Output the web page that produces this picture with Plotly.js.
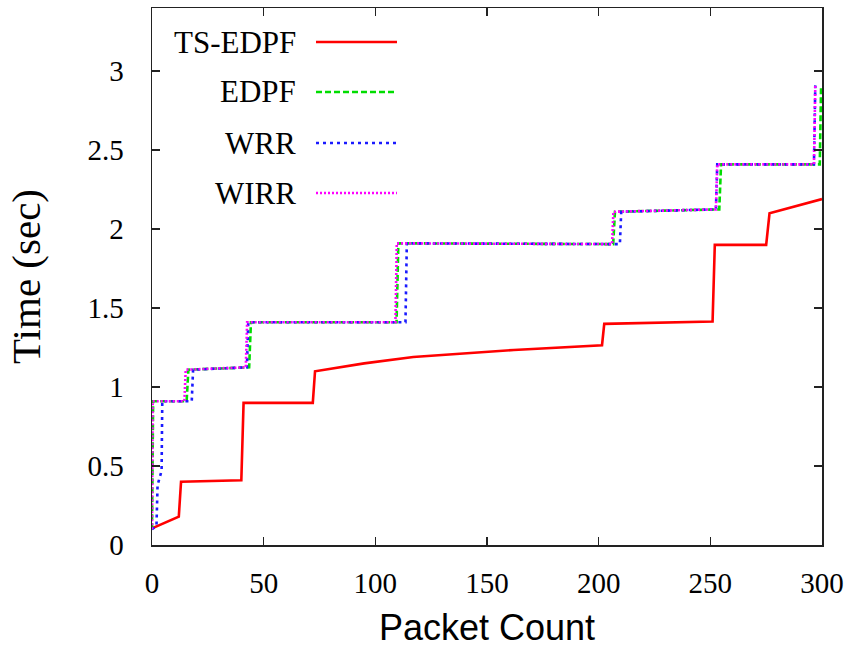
<!DOCTYPE html>
<html>
<head>
<meta charset="utf-8">
<script src="https://cdn.plot.ly/plotly-3.0.1.min.js"></script>
<style>
  html, body { margin: 0; padding: 0; background: #fff; }
  #chart { width: 852px; height: 653px; }
</style>
</head>
<body>
<div id="chart"></div>
<script>
// Cumulative scheduling time per packet for each scheduler
const seriesNames = ['TS-EDPF', 'EDPF', 'WRR', 'WIRR'];

const tsEdpfX = [0, 6, 12, 13, 40, 41, 72, 73, 95, 117, 162, 201.5, 202.5, 251, 252, 275, 276.5, 300];
const tsEdpfY = [0.105, 0.14, 0.18, 0.40, 0.41, 0.90, 0.90, 1.10, 1.15, 1.19, 1.235, 1.265, 1.40, 1.415, 1.90, 1.90, 2.10, 2.19];

const edpfX = [0, 0.5, 15.5, 16.3, 43.5, 44.3, 109.5, 110.3, 206.5, 207.3, 254, 254.8, 299, 299.6];
const edpfY = [0.10, 0.91, 0.91, 1.11, 1.125, 1.41, 1.41, 1.91, 1.905, 2.11, 2.125, 2.41, 2.41, 2.91];

const wrrX = [0, 2, 2.5, 4.3, 4.6, 17.8, 18.4, 42.5, 43.1, 113.5, 114.1, 209.5, 210.1, 252.5, 253.1, 296.4, 297];
const wrrY = [0.10, 0.12, 0.38, 0.47, 0.91, 0.91, 1.11, 1.125, 1.41, 1.41, 1.91, 1.905, 2.11, 2.125, 2.41, 2.41, 2.91];

const wirrX = [0, 0.3, 14.5, 15.1, 42, 42.6, 109, 109.6, 206, 206.6, 252.5, 253.1, 296.4, 297];
const wirrY = [0.10, 0.91, 0.91, 1.11, 1.125, 1.41, 1.41, 1.91, 1.905, 2.11, 2.125, 2.41, 2.41, 2.91];

const xTicks = [0, 50, 100, 150, 200, 250, 300];
const yTicks = [0, 0.5, 1, 1.5, 2, 2.5, 3];
const yTickText = ['0', '0.5', '1', '1.5', '2', '2.5', '3'];

// Line styles, in legend order
const styles = [
  { color: '#ff0000', width: 2.6, dash: 'solid' },
  { color: '#00dd00', width: 2.6, dash: '6px,3px' },
  { color: '#1a1aff', width: 2.6, dash: '3px,4px' },
  { color: '#ff00ff', width: 2.6, dash: '2px,2px' }
];

const xs = [tsEdpfX, edpfX, wrrX, wirrX];
const ys = [tsEdpfY, edpfY, wrrY, wirrY];

const traces = seriesNames.map((name, i) => ({
  type: 'scatter',
  mode: 'lines',
  name: name,
  x: xs[i],
  y: ys[i],
  line: { color: styles[i].color, width: styles[i].width, dash: styles[i].dash },
  showlegend: false,
  hoverinfo: 'x+y+name'
}));

// Hand-placed key in the upper-left corner: label right-aligned, sample line after it
const plotL = 152, plotR = 822, plotT = 8, plotB = 545;
const W = 852, H = 653;
const keyTextRight = 298, keyLineX0 = 316, keyLineX1 = 397;
const keyRowY = [42, 92, 143, 193];

const serif = '"Liberation Serif", "Times New Roman", serif';

const annotations = seriesNames.map((name, i) => ({
  xref: 'paper', yref: 'paper',
  x: (keyTextRight - plotL) / (plotR - plotL),
  y: (plotB - keyRowY[i]) / (plotB - plotT),
  xanchor: 'right', yanchor: 'middle',
  text: name, showarrow: false,
  font: { family: serif, size: 31, color: '#000' }
}));

const shapes = seriesNames.map((name, i) => ({
  type: 'line', xref: 'paper', yref: 'paper',
  x0: (keyLineX0 - plotL) / (plotR - plotL),
  x1: (keyLineX1 - plotL) / (plotR - plotL),
  y0: (plotB - keyRowY[i]) / (plotB - plotT),
  y1: (plotB - keyRowY[i]) / (plotB - plotT),
  line: { color: styles[i].color, width: styles[i].width, dash: styles[i].dash }
}));

const layout = {
  width: W, height: H,
  margin: { l: plotL, r: W - plotR, t: plotT, b: H - plotB, pad: 0 },
  paper_bgcolor: '#ffffff',
  plot_bgcolor: '#ffffff',
  showlegend: false,
  xaxis: {
    range: [0, 300],
    tickvals: xTicks,
    ticks: 'inside', ticklen: 8, tickwidth: 1.5, tickcolor: '#222',
    mirror: 'ticks', showline: true, linecolor: '#222', linewidth: 1.5,
    showgrid: false, zeroline: false,
    ticklabelstandoff: 12,
    tickfont: { family: serif, size: 29, color: '#000' },
    title: { text: 'Packet Count', standoff: 16,
             font: { family: '"Liberation Sans", Arial, sans-serif', size: 36, color: '#000' } }
  },
  yaxis: {
    range: [0, 3.4],
    tickvals: yTicks, ticktext: yTickText,
    ticks: 'inside', ticklen: 8, tickwidth: 1.5, tickcolor: '#222',
    mirror: 'ticks', showline: true, linecolor: '#222', linewidth: 1.5,
    showgrid: false, zeroline: false,
    ticklabelstandoff: 21,
    tickfont: { family: serif, size: 29, color: '#000' },
    title: { text: 'Time (sec)', standoff: 34,
             font: { family: serif, size: 41, color: '#000' } }
  },
  annotations: annotations,
  shapes: shapes
};

Plotly.newPlot('chart', traces, layout, { displayModeBar: false, staticPlot: true });
</script>
</body>
</html>
